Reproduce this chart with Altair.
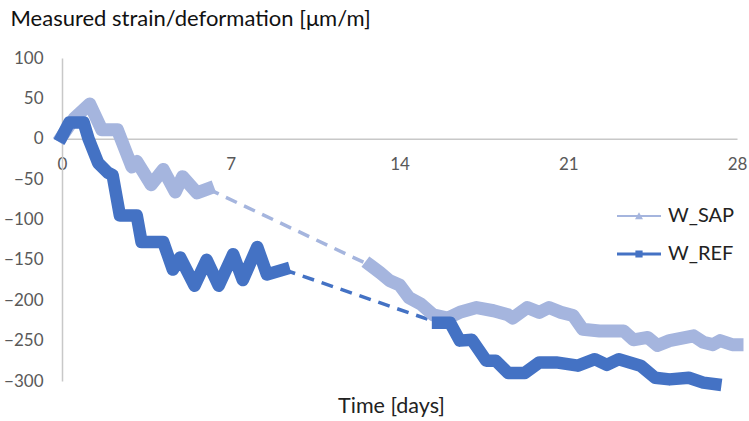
import altair as alt
import pandas as pd

FONT = "Lato"

# ---- data (days, µm/m) ----
sap1_day = [0.0, 0.5, 1.15, 1.65, 2.3, 2.9, 3.1, 3.7, 4.2, 4.7, 5.0, 5.6, 6.05]
sap1_val = [3, 25, 43, 11, 11, -35, -28, -57, -38, -66, -47, -67, -62]

sap2_day = [12.8, 13.2, 13.6, 14.0, 14.4, 14.9, 15.4, 16.0, 16.5, 17.2, 17.9, 18.5,
            18.7, 19.3, 19.8, 20.2, 20.7, 21.2, 21.6, 22.3, 23.3, 23.7, 24.3, 24.7,
            25.2, 26.2, 26.6, 27.0, 27.3, 27.8, 28.0]
sap2_val = [-157, -166, -176, -181, -197, -205, -218, -222, -215, -209, -213, -218,
            -222, -209, -215, -209, -215, -219, -236, -238, -238, -249, -246, -256,
            -250, -244, -252, -255, -250, -255, -255]

ref1_day = [0.0, 0.3, 0.9, 1.1, 1.5, 1.9, 2.1, 2.4, 3.1, 3.3, 4.2, 4.6, 4.9, 5.5,
            6.0, 6.5, 7.1, 7.5, 8.1, 8.5, 9.2]
ref1_val = [3, 20, 20, 0, -30, -42, -45, -95, -95, -128, -128, -162, -147, -182,
            -150, -182, -143, -175, -134, -168, -162]

ref2_day = [15.6, 16.1, 16.5, 17.0, 17.6, 18.0, 18.5, 19.2, 19.8, 20.5, 21.4, 22.1,
            22.6, 23.1, 24.0, 24.6, 25.2, 26.0, 26.6, 27.1]
ref2_val = [-228, -228, -250, -249, -275, -275, -290, -290, -277, -277, -281, -273,
            -280, -273, -281, -296, -298, -296, -302, -304]

series_names = ["W_SAP", "W_REF"]
series_colors = ["#A5B5DE", "#4472C4"]
x_ticks = [0, 7, 14, 21, 28]
y_ticks = [-300, -250, -200, -150, -100, -50, 0, 50, 100]

# ---- tables ----
def seg_rows(days, vals, series, seg):
    return [{"day": d, "value": v, "series": series, "seg": seg} for d, v in zip(days, vals)]

solid = pd.DataFrame(
    seg_rows(sap1_day, sap1_val, "W_SAP", "s1") + seg_rows(sap2_day, sap2_val, "W_SAP", "s2")
    + seg_rows(ref1_day, ref1_val, "W_REF", "r1") + seg_rows(ref2_day, ref2_val, "W_REF", "r2")
)
gaps = pd.DataFrame(
    seg_rows([sap1_day[-1], sap2_day[0]], [sap1_val[-1], sap2_val[0]], "W_SAP", "sg")
    + seg_rows([ref1_day[-1], ref2_day[0]], [ref1_val[-1], ref2_val[0]], "W_REF", "rg")
)

W, H = 675, 323
y_zero_px = H * 100 / 400.0

color_scale = alt.Scale(domain=series_names, range=series_colors)

x_enc = alt.X(
    "day:Q",
    scale=alt.Scale(domain=[0, 28], nice=False, zero=False),
    axis=alt.Axis(
        values=x_ticks, grid=False, ticks=False, offset=-(H - y_zero_px),
        domainColor="#C8C8C8", domainWidth=1.5,
        labelColor="#595959", labelFont=FONT, labelFontSize=17, labelPadding=18,
        labelFlush=False, labelOverlap=False, labelBound=False,
        title="Time [days]", titleFont=FONT, titleFontSize=21.5, titleFontWeight="normal",
        titleColor="#222222", titleAlign="center", titleBaseline="alphabetic",
        titleX=329, titleY=274,
    ),
)
y_enc = alt.Y(
    "value:Q",
    scale=alt.Scale(domain=[-300, 100], nice=False, zero=False),
    axis=alt.Axis(
        values=y_ticks, grid=False, ticks=False,
        domainColor="#C8C8C8", domainWidth=1.5,
        labelColor="#595959", labelFont=FONT, labelFontSize=17, labelPadding=19,
        title="Measured strain/deformation [μm/m]", titleFont=FONT, titleFontSize=22,
        titleFontWeight="normal", titleColor="#111111", titleAngle=0,
        titleAlign="left", titleBaseline="alphabetic", titleX=-52, titleY=-33,
    ),
)

def line_layer(idx, data, width, dash=None):
    series = series_names[idx]
    kw = dict(strokeWidth=width, strokeJoin="round", strokeCap="square")
    if dash:
        kw = dict(strokeWidth=width, strokeDash=dash, strokeCap="butt")
    return alt.Chart(data).transform_filter(
        alt.datum.series == series
    ).mark_line(color=series_colors[idx], **kw).encode(
        x=x_enc, y=y_enc, detail="seg:N",
    )

tri_path = "M-5.5,-0.25 L5.5,-0.25 L5.5,0.25 L-5.5,0.25 Z M-1,0.8 L0,-0.95 L1,0.8 Z"
sq_path = "M-5.5,-0.35 L5.5,-0.35 L5.5,0.35 L-5.5,0.35 Z M-0.9,-0.9 L0.9,-0.9 L0.9,0.9 L-0.9,0.9 Z"

legend_cfg = alt.Legend(
    title=None, orient="none", legendX=567, legendY=148, padding=0,
    symbolSize=64, symbolOpacity=1, labelFont=FONT, labelFontSize=20,
    labelColor="#222222", labelOffset=19, rowPadding=18,
)

legend_layer = alt.Chart(solid).mark_point(filled=True, opacity=0).encode(
    x=x_enc, y=y_enc,
    color=alt.Color("series:N", scale=color_scale, legend=legend_cfg),
    shape=alt.Shape("series:N", scale=alt.Scale(domain=series_names, range=[tri_path, sq_path]),
                    legend=legend_cfg),
)

chart = alt.layer(
    line_layer(0, gaps, 3.5, [12, 8]),
    line_layer(1, gaps, 3.5, [12, 8]),
    line_layer(0, solid, 13),
    line_layer(1, solid, 12.5),
    legend_layer,
).properties(
    width=W, height=H,
    autosize=alt.AutoSizeParams(type="none"),
    padding={"left": 62, "top": 58, "right": 12, "bottom": 40},
    background="white",
).configure_view(stroke=None)

chart.save("out.html", embed_options={"renderer": "svg", "actions": False})
